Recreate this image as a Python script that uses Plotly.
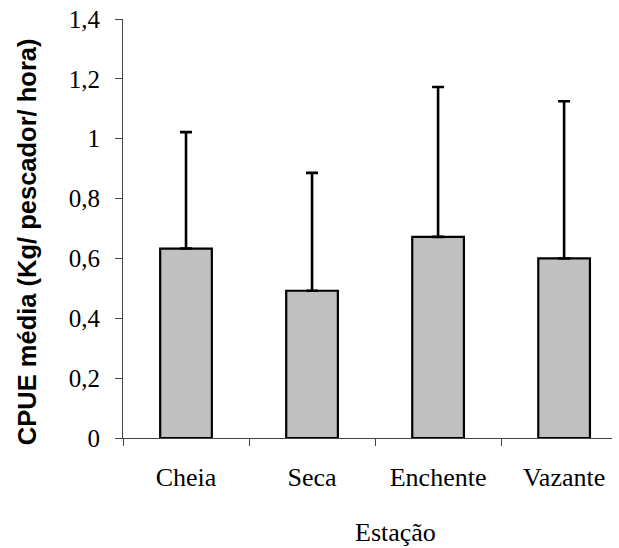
import plotly.graph_objects as go

categories = ["Cheia", "Seca", "Enchente", "Vazante"]
means = [0.633, 0.492, 0.672, 0.600]
upper_err = [0.389, 0.394, 0.501, 0.525]
ytick_vals = [0, 0.2, 0.4, 0.6, 0.8, 1.0, 1.2, 1.4]
ytick_text = ["0", "0,2", "0,4", "0,6", "0,8", "1", "1,2", "1,4"]

W, H = 619, 548
ml, mr, mt, mb = 123, 7, 19, 110.3
pw, ph = W - ml - mr, H - mt - mb

def px(x):
    return (x - ml) / pw

def py(y):
    return (H - mb - y) / ph

fig = go.Figure()
fig.add_trace(go.Bar(
    x=categories, y=means,
    width=0.41,
    marker=dict(color="#c0c0c0", line=dict(color="black", width=2.2)),
    error_y=dict(type="data", array=upper_err, symmetric=False,
                 arrayminus=[0] * len(means),
                 color="black", thickness=2.6, width=6),
))

serif = "Liberation Serif, Times New Roman, serif"
fig.update_layout(
    width=W, height=H,
    margin=dict(l=ml, r=mr, t=mt, b=mb),
    paper_bgcolor="white", plot_bgcolor="white",
    showlegend=False,
    xaxis=dict(
        type="category", range=[-0.5, 3.38],
        showline=True, linecolor="#444", linewidth=1,
        ticks="outside", tickson="boundaries", ticklen=7, tickcolor="#444",
        tickfont=dict(family=serif, size=26, color="black"),
        showgrid=False, zeroline=False,
        ticklabelstandoff=16,
    ),
    yaxis=dict(
        range=[0, 1.4],
        tickvals=ytick_vals, ticktext=ytick_text,
        showline=True, linecolor="#444", linewidth=1,
        ticks="outside", ticklen=7, tickcolor="#444",
        tickfont=dict(family=serif, size=25, color="black"),
        showgrid=False, zeroline=False,
        ticklabelstandoff=10,
    ),
    annotations=[
        dict(text="CPUE média (Kg/ pescador/ hora)", textangle=-90,
             x=px(27), y=py(242), xref="paper", yref="paper",
             xanchor="center", yanchor="middle", showarrow=False,
             font=dict(family="Liberation Sans, Arial, sans-serif", size=25.5,
                       color="black", weight="bold")),
        dict(text="Estação", x=px(395), y=py(548), xref="paper", yref="paper",
             xanchor="center", yanchor="bottom", showarrow=False, borderpad=0,
             font=dict(family=serif, size=26, color="black")),
    ],
)

fig.write_html("out.html",
               config={"displayModeBar": False},
               post_script="document.body.style.margin='0';document.body.style.overflow='hidden';")
